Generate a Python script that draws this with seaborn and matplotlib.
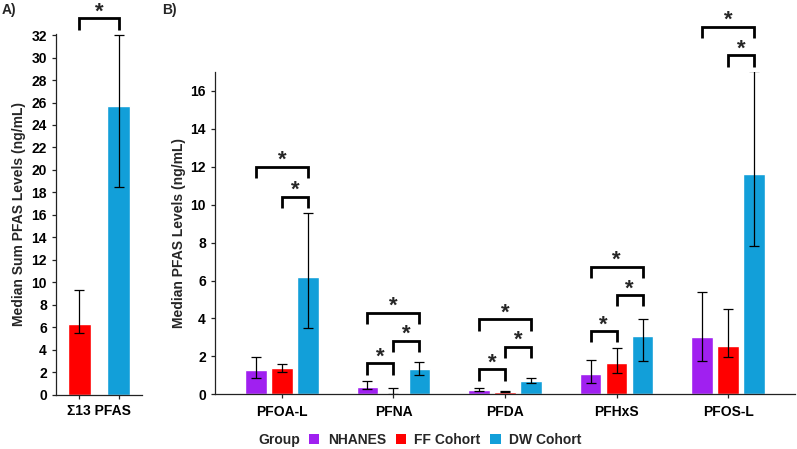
import numpy as np
import pandas as pd
import matplotlib
matplotlib.use("Agg")
import matplotlib.pyplot as plt
import seaborn as sns
from matplotlib.patches import Patch

# ---------------- data ----------------
groups = ["NHANES", "FF Cohort", "DW Cohort"]
colors = ["#A020F0", "#FF0000", "#129FD9"]

analytes = ["PFOA-L", "PFNA", "PFDA", "PFHxS", "PFOS-L"]
nhanes_med = [1.28, 0.40, 0.23, 1.09, 3.00]
nhanes_lo = [0.84, 0.30, 0.15, 0.58, 1.74]
nhanes_hi = [1.98, 0.72, 0.32, 1.81, 5.40]
ff_med = [1.40, 0.00, 0.12, 1.67, 2.56]
ff_lo = [1.16, 0.00, 0.10, 1.11, 1.95]
ff_hi = [1.60, 0.32, 0.15, 2.44, 4.50]
dw_med = [6.17, 1.35, 0.72, 3.09, 11.60]
dw_lo = [3.48, 1.03, 0.58, 1.74, 7.82]
dw_hi = [9.56, 1.72, 0.88, 3.97, 17.03]

sum_label = ["Σ13 PFAS"]
sum_groups = ["FF Cohort", "DW Cohort"]
sum_med = [6.27, 25.70]
sum_lo = [5.50, 18.45]
sum_hi = [9.30, 32.02]

# significance brackets (analyte, from group, to group, bracket top)
sig_analyte = ["PFOA-L", "PFOA-L", "PFNA", "PFNA", "PFNA", "PFDA", "PFDA", "PFDA",
               "PFHxS", "PFHxS", "PFHxS", "PFOS-L", "PFOS-L"]
sig_from = ["NHANES", "FF Cohort", "NHANES", "FF Cohort", "NHANES", "NHANES", "FF Cohort", "NHANES",
            "NHANES", "FF Cohort", "NHANES", "NHANES", "FF Cohort"]
sig_to = ["DW Cohort", "DW Cohort", "DW Cohort", "DW Cohort", "FF Cohort", "DW Cohort", "DW Cohort", "FF Cohort",
          "DW Cohort", "DW Cohort", "FF Cohort", "DW Cohort", "DW Cohort"]
sig_y = [12.0, 10.42, 4.30, 2.83, 1.63, 3.96, 2.51, 1.32, 6.73, 5.24, 3.34, 19.39, 17.88]
sum_sig_y = [33.5]

# ---------------- style ----------------
sns.set_theme(style="ticks")
plt.rcParams["font.family"] = ["Liberation Sans", "DejaVu Sans"]
plt.rcParams["font.weight"] = "bold"
plt.rcParams["axes.labelweight"] = "bold"
plt.rcParams["axes.edgecolor"] = "#222222"
plt.rcParams["axes.linewidth"] = 0.9
plt.rcParams["xtick.color"] = "#222222"
plt.rcParams["ytick.color"] = "#222222"
plt.rcParams["xtick.labelcolor"] = "black"
plt.rcParams["ytick.labelcolor"] = "black"
plt.rcParams["xtick.major.size"] = 3
plt.rcParams["ytick.major.size"] = 3
plt.rcParams["xtick.major.width"] = 0.9
plt.rcParams["ytick.major.width"] = 0.9

W, H = 797, 449
fig = plt.figure(figsize=(W / 100, H / 100), dpi=100)


def fx(px):
    return px / W


def fy(py):
    return 1 - py / H


axA = fig.add_axes([fx(56), fy(394.5), fx(142) - fx(56), fy(34) - fy(394.5)])
axB = fig.add_axes([fx(215), fy(394.3), fx(795) - fx(215), fy(71.7) - fy(394.3)])

palette = dict(zip(groups, colors))

# ---------------- panel A ----------------
dfA = pd.DataFrame({"Analyte": sum_label * len(sum_groups), "Group": sum_groups, "Median": sum_med})
sns.barplot(data=dfA, x="Analyte", y="Median", hue="Group", hue_order=sum_groups,
            palette=palette, width=0.916, gap=0.42, errorbar=None, legend=False,
            saturation=1, ax=axA)
posA = {}
for cont, g, med, lo, hi in zip(list(axA.containers), sum_groups, sum_med, sum_lo, sum_hi):
    p = cont.patches[0]
    xc = p.get_x() + p.get_width() / 2
    posA[g] = xc
    axA.errorbar([xc], [med], yerr=[[med - lo], [hi - med]], fmt="none", ecolor="black",
                 elinewidth=0.9, capsize=3.5, capthick=0.9)
axA.set_xlim(-0.5, 0.5)
axA.set_ylim(0, 32.1)
axA.set_yticks(np.arange(0, 33, 2))
axA.set_xticks([posA[g] for g in sum_groups], labels=["", ""])
axA.set_xticks([0], labels=sum_label, minor=True)
axA.tick_params(axis="x", which="minor", length=0, pad=7)
axA.set_xlabel("")
axA.set_ylabel("")
sns.despine(ax=axA)

# ---------------- panel B ----------------
dfB = pd.DataFrame({
    "Analyte": analytes * 3,
    "Group": [g for g in groups for _ in analytes],
    "Median": nhanes_med + ff_med + dw_med,
})
sns.barplot(data=dfB, x="Analyte", y="Median", hue="Group", hue_order=groups, order=analytes,
            palette=palette, width=0.7, gap=0.17, errorbar=None, legend=False,
            saturation=1, ax=axB)
meds = [nhanes_med, ff_med, dw_med]
los = [nhanes_lo, ff_lo, dw_lo]
his = [nhanes_hi, ff_hi, dw_hi]
posB = {}
for cont, g, med, lo, hi in zip(list(axB.containers), groups, meds, los, his):
    xs = [p.get_x() + p.get_width() / 2 for p in cont.patches]
    for a, xc in zip(analytes, xs):
        posB[(a, g)] = xc
    med = np.array(med); lo = np.array(lo); hi = np.array(hi)
    axB.errorbar(xs, med, yerr=[med - lo, hi - med], fmt="none", ecolor="black",
                 elinewidth=0.9, capsize=3.5, capthick=0.9)
axB.set_xlim(-0.6, 4.6)
axB.set_ylim(0, 17.01)
axB.set_yticks(np.arange(0, 17, 2))
axB.set_xlabel("")
axB.set_ylabel("")
axB.tick_params(axis="x", pad=5)
sns.despine(ax=axB)

for ax in (axA, axB):
    for lab in ax.get_xticklabels(which="both") + ax.get_yticklabels():
        lab.set_fontsize(10)
        lab.set_fontweight("bold")


def bracket(ax, x1, x2, y, h):
    ax.plot([x1, x1, x2, x2], [y - h, y, y, y - h], color="black", lw=2.0,
            clip_on=False, solid_joinstyle="miter", solid_capstyle="butt")
    ax.annotate("*", xy=((x1 + x2) / 2, y), xytext=(0, 0.5), textcoords="offset points",
                ha="center", va="baseline", fontsize=16, fontweight="bold",
                annotation_clip=False)


bracket(axA, posA["FF Cohort"], posA["DW Cohort"], sum_sig_y[0], 1.0)
for a, g1, g2, y in zip(sig_analyte, sig_from, sig_to, sig_y):
    bracket(axB, posB[(a, g1)], posB[(a, g2)], y, 0.6)

# ---------------- labels ----------------
fig.text(fx(19), fy(214), "Median Sum PFAS Levels (ng/mL)", rotation=90, ha="center",
         va="center", fontsize=10, fontweight="bold")
fig.text(fx(178.5), fy(233), "Median PFAS Levels (ng/mL)", rotation=90, ha="center",
         va="center", fontsize=10, fontweight="bold")
fig.text(fx(2), fy(10), "A)", ha="left", va="center", fontsize=10, fontweight="bold")
fig.text(fx(162), fy(10), "B)", ha="left", va="center", fontsize=10, fontweight="bold")

# legend
handles = [Patch(facecolor=c, edgecolor="none") for c in colors]
fig.text(fx(258), fy(440), "Group", ha="left", va="center", fontsize=10, fontweight="bold")
fig.legend(handles, groups, loc="center left", bbox_to_anchor=(fx(309), fy(440)), ncol=3,
           frameon=False, borderpad=0, borderaxespad=0, handlelength=0.75, handleheight=0.75,
           handletextpad=0.6, columnspacing=0.7, prop={"size": 10, "weight": "bold"})

fig.savefig("out.png", dpi=100)
